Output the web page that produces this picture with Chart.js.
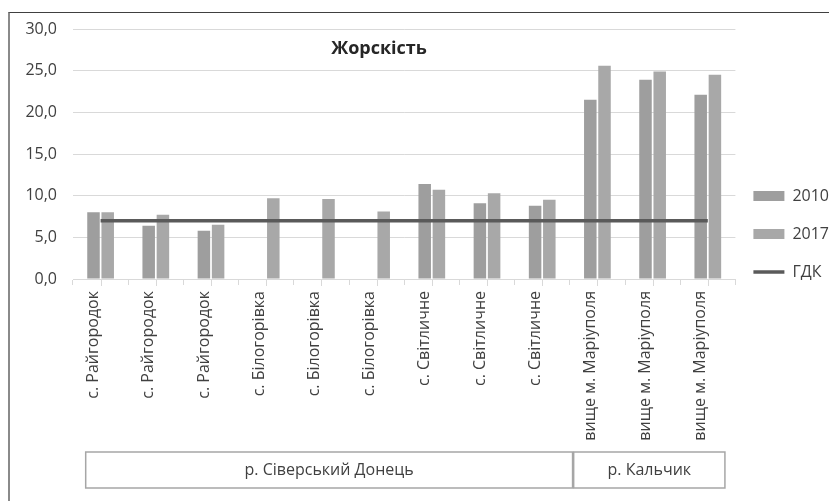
<!DOCTYPE html>
<html lang="uk">
<head>
<meta charset="UTF-8">
<title>Жорскість</title>
<script src="https://cdn.jsdelivr.net/npm/chart.js"></script>
<style>
  body { margin: 0; background: #fff; overflow: hidden; }
  #frame { position: absolute; left: 8px; top: 12px; width: 1000px; height: 1000px;
           border-left: 2px solid #8a8a8a; border-top: 1px solid #404040; }
  #chart { position: absolute; left: 0; top: 0; }
</style>
</head>
<body>
<div id="frame"></div>
<canvas id="chart" width="860" height="501"></canvas>
<script>
const chartTitle = 'Жорскість';
const sites = [
  'с. Райгородок', 'с. Райгородок', 'с. Райгородок',
  'с. Білогорівка', 'с. Білогорівка', 'с. Білогорівка',
  'с. Світличне', 'с. Світличне', 'с. Світличне',
  'вище м. Маріуполя', 'вище м. Маріуполя', 'вище м. Маріуполя'
];
// river groups under the site labels (first/last site index)
const riverNames = ['р. Сіверський Донець', 'р. Кальчик'];
const riverFirst = [0, 9];
const riverLast = [8, 11];

const hardness2010 = [8.0, 6.4, 5.8, null, null, null, 11.4, 9.1, 8.8, 21.5, 23.9, 22.1];
const hardness2017 = [8.0, 7.7, 6.5, 9.7, 9.6, 8.1, 10.7, 10.3, 9.5, 25.6, 24.9, 24.5];
const gdk = [7, 7, 7, 7, 7, 7, 7, 7, 7, 7, 7, 7];

const yMin = 0, yMax = 30, yStep = 5;

const font = '"Open Sans", sans-serif';
const textColor = '#404040';

// title, centre ticks and the river boxes below the axis
const extras = {
  id: 'extras',
  afterDraw(chart) {
    const ctx = chart.ctx;
    const x = chart.scales.x;
    const w = x.getPixelForValue(1) - x.getPixelForValue(0);
    ctx.save();

    ctx.strokeStyle = '#d9d9d9';
    ctx.lineWidth = 1;
    sites.forEach((s, i) => {
      const px = Math.round(x.getPixelForValue(i)) + 0.5;
      ctx.beginPath();
      ctx.moveTo(px, x.top);
      ctx.lineTo(px, x.top + 7);
      ctx.stroke();
    });

    const top = chart.chartArea.bottom + 173, h = 36;
    ctx.strokeStyle = '#a6a6a6';
    ctx.lineWidth = 1.5;
    ctx.fillStyle = textColor;
    ctx.font = '16px ' + font;
    ctx.textAlign = 'center';
    ctx.textBaseline = 'middle';
    riverNames.forEach((name, k) => {
      const left = k === 0 ? x.getPixelForValue(riverFirst[k]) - 0.27 * w
                           : x.getPixelForValue(riverFirst[k]) - 0.43 * w;
      const right = k === riverNames.length - 1 ? x.getPixelForValue(riverLast[k]) + 0.31 * w
                                                : x.getPixelForValue(riverLast[k]) + 0.55 * w;
      ctx.strokeRect(left, top, right - left, h);
      ctx.fillText(name, (left + right) / 2, top + h / 2);
    });

    ctx.fillStyle = '#262626';
    ctx.font = 'bold 18px ' + font;
    ctx.fillText(chartTitle, 379, 49);
    ctx.restore();
  }
};

const ctx = document.getElementById('chart').getContext('2d');
new Chart(ctx, {
  type: 'bar',
  data: {
    labels: sites,
    datasets: [
      { label: '2010', data: hardness2010, backgroundColor: '#9e9e9e', borderWidth: 0,
        pointStyle: 'rect', order: 1, categoryPercentage: 0.515, barPercentage: 0.88 },
      { label: '2017', data: hardness2017, backgroundColor: '#a8a8a8', borderWidth: 0,
        pointStyle: 'rect', order: 1, categoryPercentage: 0.515, barPercentage: 0.88 },
      { type: 'line', label: 'ГДК', data: gdk, borderColor: '#5a5a5a', backgroundColor: '#5a5a5a',
        borderWidth: 3.5, pointRadius: 0, pointStyle: 'line', order: 0 }
    ]
  },
  options: {
    responsive: false,
    animation: false,
    devicePixelRatio: 1,
    layout: { padding: { top: 29, left: 23, right: 21, bottom: 58 } },
    scales: {
      x: {
        grid: { offset: true, drawOnChartArea: false, tickLength: 6, color: '#d9d9d9' },
        border: { color: '#d9d9d9' },
        ticks: { minRotation: 90, maxRotation: 90, autoSkip: false, padding: 6, labelOffset: -7,
                 color: textColor, font: { family: font, size: 16 } },
        afterFit(scale) { scale.height = 164; }
      },
      y: {
        min: yMin, max: yMax,
        grid: { color: '#d9d9d9', drawTicks: false },
        border: { display: false },
        ticks: { stepSize: yStep, padding: 16, color: textColor, font: { family: font, size: 16 },
                 callback: v => v.toFixed(1).replace('.', ',') },
        afterFit(scale) { scale.width = 50; }
      }
    },
    plugins: {
      legend: {
        position: 'right', align: 'center',
        labels: {
          usePointStyle: true, pointStyleWidth: 31, boxHeight: 10, padding: 18,
          color: textColor, font: { family: font, size: 16, lineHeight: 1.25 },
          sort: (a, b) => a.datasetIndex - b.datasetIndex,
          // one-line arrays so each row takes the font line height
          generateLabels: chart => Chart.defaults.plugins.legend.labels.generateLabels(chart)
            .map(item => Object.assign(item, { text: [item.text] }))
        }
      },
      tooltip: { enabled: false }
    }
  },
  plugins: [extras]
});
</script>
</body>
</html>
